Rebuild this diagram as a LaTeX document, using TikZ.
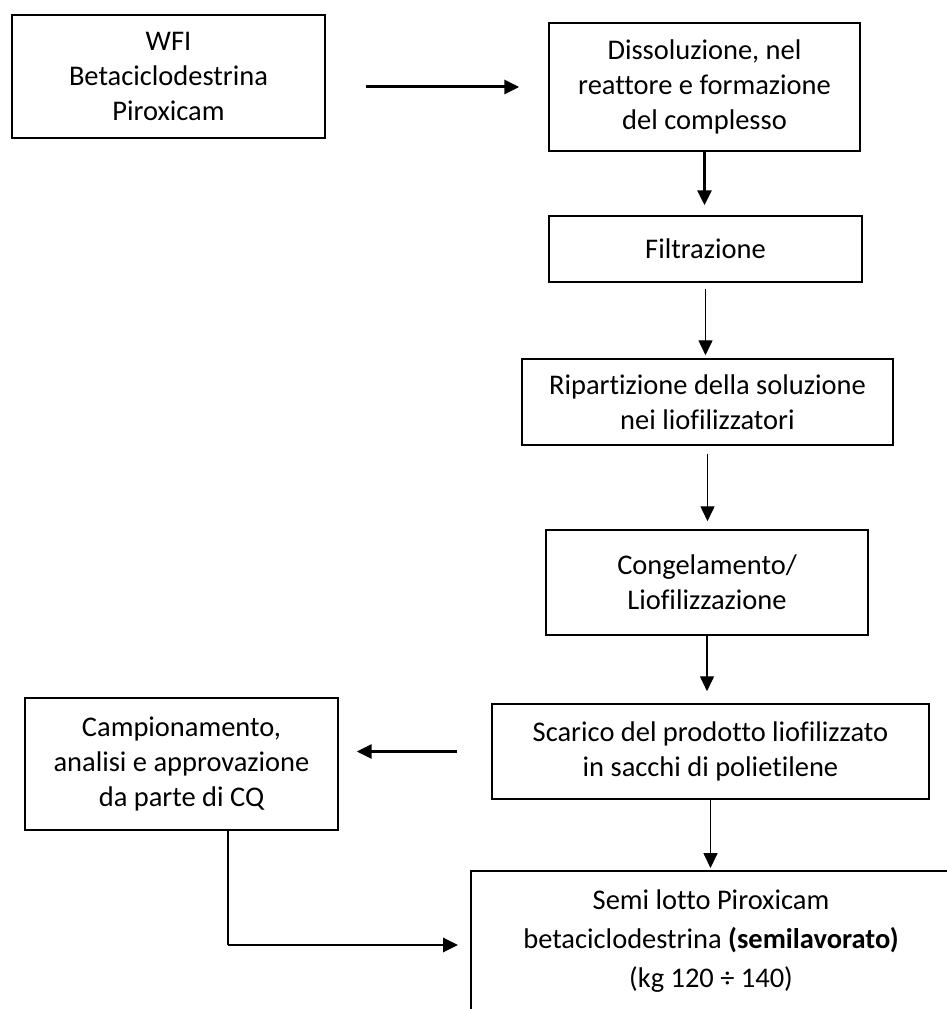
\documentclass[tikz,border=0pt]{standalone}
\usepackage{fontspec}
\setmainfont{Carlito}[Ligatures=NoCommon]
\usetikzlibrary{arrows.meta}
\tikzset{
	boxnode/.style={draw, line width=0.9pt, align=center, inner sep=0pt, font=\fontsize{16.2}{19.8}\selectfont},
	thinarrow/.style={line width=0.75pt, -{Triangle[length=8.5pt, width=8pt]}},
	thickarrow/.style={line width=1.7pt, -{Triangle[length=8.5pt, width=8pt]}}
}

\begin{document}
\begin{tikzpicture}
			%%%%% START %%%%%
			
			\useasboundingbox (0, 0) rectangle (18.94, 20.18);
			
			\node[boxnode, minimum width=6.26cm, minimum height=2.46cm] (wfi) at (3.37, 18.65) {WFI\\Betaciclodestrina\\Piroxicam};
			\node[boxnode, minimum width=6.22cm, minimum height=2.56cm] (dissol) at (14.09, 18.44) {Dissoluzione, nel\\reattore e formazione\\del complesso};
			\node[boxnode, minimum width=6.26cm, minimum height=1.32cm] (filtr) at (14.11, 15.20) {Filtrazione};
			\node[boxnode, minimum width=7.42cm, minimum height=1.72cm] (ripart) at (14.15, 12.14) {Ripartizione della soluzione\\nei liofilizzatori};
			\node[boxnode, minimum width=6.44cm, minimum height=2.10cm] (congel) at (14.14, 8.53) {Congelamento/\\Liofilizzazione};
			\node[boxnode, minimum width=8.74cm, minimum height=1.90cm] (scarico) at (14.21, 5.15) {Scarico del prodotto liofilizzato\\in sacchi di polietilene};
			\node[boxnode, minimum width=6.26cm, minimum height=2.64cm] (campion) at (3.63, 4.90) {Campionamento,\\analisi e approvazione\\da parte di CQ};
			
			% open box at the bottom
			\node[align=center, inner sep=0pt, font=\fontsize{16.2}{22}\selectfont] (semi) at (14.22, 1.36) {Semi lotto Piroxicam\\betaciclodestrina \textbf{(semilavorato)}\\(kg 120 ÷ 140)};
			\coordinate (semicorner) at (9.42, 2.76);
			\coordinate (semifoot) at (9.42, 0);
			\coordinate (semiright) at (18.94, 2.76);
			\draw[line width=0.9pt] (semifoot) -- (semicorner) -- (semiright);
			
			\draw[thickarrow, shorten <=0.8cm, shorten >=0.58cm] (wfi.east |- dissol.west) -- (dissol.west);
			\draw[thickarrow, shorten >=0.2cm] (dissol.south) -- (dissol.south |- filtr.north);
			\draw[thinarrow, shorten <=0.12cm, shorten >=0.06cm] (filtr.south) -- (filtr.south |- ripart.north);
			\draw[thinarrow, shorten <=0.16cm, shorten >=0.16cm] (ripart.south) -- (ripart.south |- congel.north);
			\draw[thinarrow, shorten >=0.24cm] (congel.south) -- (congel.south |- scarico.north);
			\draw[thickarrow, shorten <=0.68cm, shorten >=0.36cm] (scarico.west) -- (campion.east |- scarico.west);
			\draw[thinarrow, shorten >=0.06cm] (scarico.south) -- (scarico.south |- semicorner);
			
			\coordinate (bend) at (4.56, 1.28);
			\coordinate (semiwest) at (9.42, 1.28);
			\draw[line width=0.75pt] (campion.south -| bend) -- (bend);
			\draw[thickarrow, shorten >=0.26cm] (bend) -- (semiwest);
			
			%%%%% END %%%%%
		\end{tikzpicture}
\end{document}
